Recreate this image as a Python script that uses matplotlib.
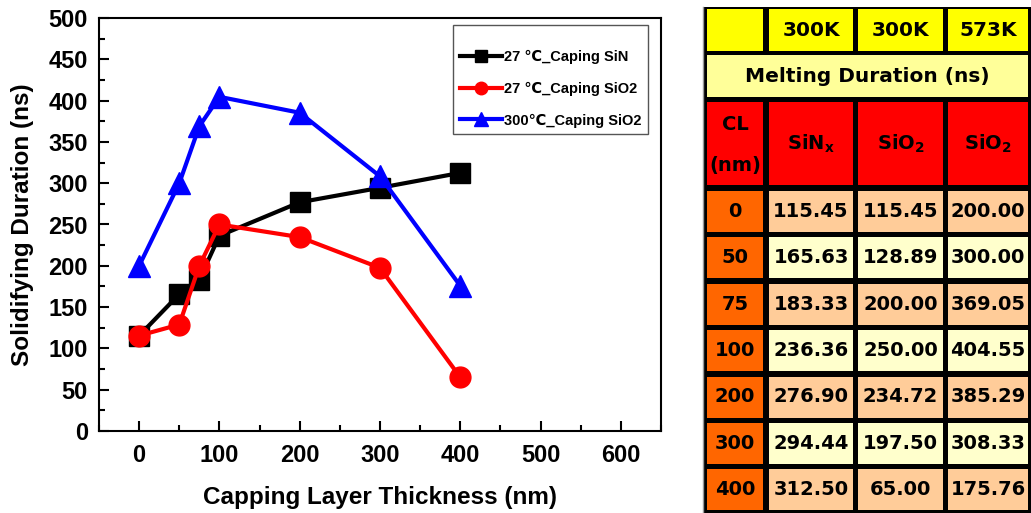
import matplotlib
matplotlib.use("Agg")
import matplotlib.pyplot as plt
from matplotlib.patches import Rectangle
from matplotlib.ticker import MultipleLocator

# Capping layer thicknesses (nm) and melting/solidifying durations (ns)
thickness = [0, 50, 75, 100, 200, 300, 400]
sin_300k = [115.45, 165.63, 183.33, 236.36, 276.90, 294.44, 312.50]
sio2_300k = [115.45, 128.89, 200.00, 250.00, 234.72, 197.50, 65.00]
sio2_573k = [200.00, 300.00, 369.05, 404.55, 385.29, 308.33, 175.76]

series_labels = ["27 \u2103_Caping SiN", "27 \u2103_Caping SiO2", "300\u2103_Caping SiO2"]
temp_headers = ["300K", "300K", "573K"]
material_headers = [r"SiN$_{\mathbf{x}}$", r"SiO$_{\mathbf{2}}$", r"SiO$_{\mathbf{2}}$"]
table_title = "Melting Duration (ns)"

plt.rcParams["font.family"] = ["Liberation Sans", "DejaVu Sans"]
plt.rcParams["font.weight"] = "bold"
plt.rcParams["mathtext.fontset"] = "dejavusans"
plt.rcParams["mathtext.default"] = "bf"

W, H = 1031, 513
fig = plt.figure(figsize=(W / 100, H / 100), dpi=100)
fig.patch.set_facecolor("white")

# ---------------- line chart ----------------
ax = fig.add_axes([99 / W, (H - 431) / H, (661 - 99) / W, (431 - 18) / H])
styles = [
    dict(color="black", marker="s", markersize=14),
    dict(color="#ff0000", marker="o", markersize=15),
    dict(color="#0000ff", marker="^", markersize=16),
]
for ys, lab, st in zip([sin_300k, sio2_300k, sio2_573k], series_labels, styles):
    ax.plot(thickness, ys, linewidth=3, label=lab, **st)

ax.set_xlim(-50, 650)
ax.set_ylim(0, 500)
ax.xaxis.set_major_locator(MultipleLocator(100))
ax.xaxis.set_minor_locator(MultipleLocator(50))
ax.yaxis.set_major_locator(MultipleLocator(50))
ax.yaxis.set_minor_locator(MultipleLocator(25))
ax.tick_params(which="both", direction="in", width=1.5, top=False, right=False)
ax.tick_params(which="major", length=7)
ax.tick_params(which="minor", length=4)
ax.tick_params(axis="y", pad=8)
ax.tick_params(axis="x", pad=9)
for lbl in ax.get_xticklabels() + ax.get_yticklabels():
    lbl.set_fontsize(17)
    lbl.set_fontweight("bold")
for sp in ax.spines.values():
    sp.set_linewidth(1.5)

ax.set_xlabel("Capping Layer Thickness (nm)", fontsize=17.5, fontweight="bold", labelpad=14)
ax.set_ylabel("Solidifying Duration (ns)", fontsize=17.5, fontweight="bold", labelpad=10)

leg = ax.legend(loc="upper left", bbox_to_anchor=(0.63, 0.983), borderaxespad=0,
                prop=dict(size=10.5, weight="bold"), markerscale=0.6,
                handlelength=2.9, handletextpad=0.15, labelspacing=1.2,
                borderpad=0.45, title=" ", title_fontsize=1, fancybox=False,
                framealpha=1)
leg.get_frame().set_edgecolor("#555555")
leg.get_frame().set_linewidth(1.0)

# ---------------- data table ----------------
tx = fig.add_axes([0, 0, 1, 1], facecolor="none")
tx.set_xlim(0, W)
tx.set_ylim(H, 0)
tx.axis("off")

col_edges = [(707, 763), (769, 853), (858, 943), (948, 1028)]
row_top = [9.3, 55.3, 101.7]
row_bot = [50.7, 97.3, 185]
data_top0, data_pitch, data_h = 190.7, 46.45, 41

tx.add_patch(Rectangle((703, 6.5), W - 703, H - 6.5, facecolor="black", edgecolor="none"))
tx.plot([702.5, 702.5], [6.5, H], color="#999999", linewidth=1)

def cell(x0, x1, y0, y1, color, text="", size=14):
    tx.add_patch(Rectangle((x0, y0), x1 - x0, y1 - y0, facecolor=color, edgecolor="none"))
    if text:
        tx.text((x0 + x1) / 2, (y0 + y1) / 2, text, ha="center", va="center",
                fontsize=size, fontweight="bold", family="DejaVu Sans", color="black",
                clip_on=True)

# header rows
cell(col_edges[0][0], col_edges[0][1], row_top[0], row_bot[0], "#ffff00")
for (x0, x1), t in zip(col_edges[1:], temp_headers):
    cell(x0, x1, row_top[0], row_bot[0], "#ffff00", t, 14.5)
cell(col_edges[0][0], col_edges[-1][1], row_top[1], row_bot[1], "#ffff99", table_title, 14.5)
cell(col_edges[0][0], col_edges[0][1], row_top[2], row_bot[2], "#ff0000")
tx.text(735, 125, "CL", ha="center", va="center", fontsize=14, fontweight="bold",
        family="DejaVu Sans")
tx.text(735, 166, "(nm)", ha="center", va="center", fontsize=14, fontweight="bold",
        family="DejaVu Sans")
for (x0, x1), t in zip(col_edges[1:], material_headers):
    cell(x0, x1, row_top[2], row_bot[2], "#ff0000", t, 14)

# data rows
for i, t in enumerate(thickness):
    y0 = data_top0 + i * data_pitch
    y1 = y0 + data_h
    cell(col_edges[0][0], col_edges[0][1], y0, y1, "#ff6600", str(t), 14)
    fill = "#ffcc99" if i % 2 == 0 else "#ffffcc"
    for (x0, x1), v in zip(col_edges[1:], [sin_300k[i], sio2_300k[i], sio2_573k[i]]):
        cell(x0, x1, y0, y1, fill, f"{v:.2f}", 14)

fig.savefig("out.png", dpi=100)
